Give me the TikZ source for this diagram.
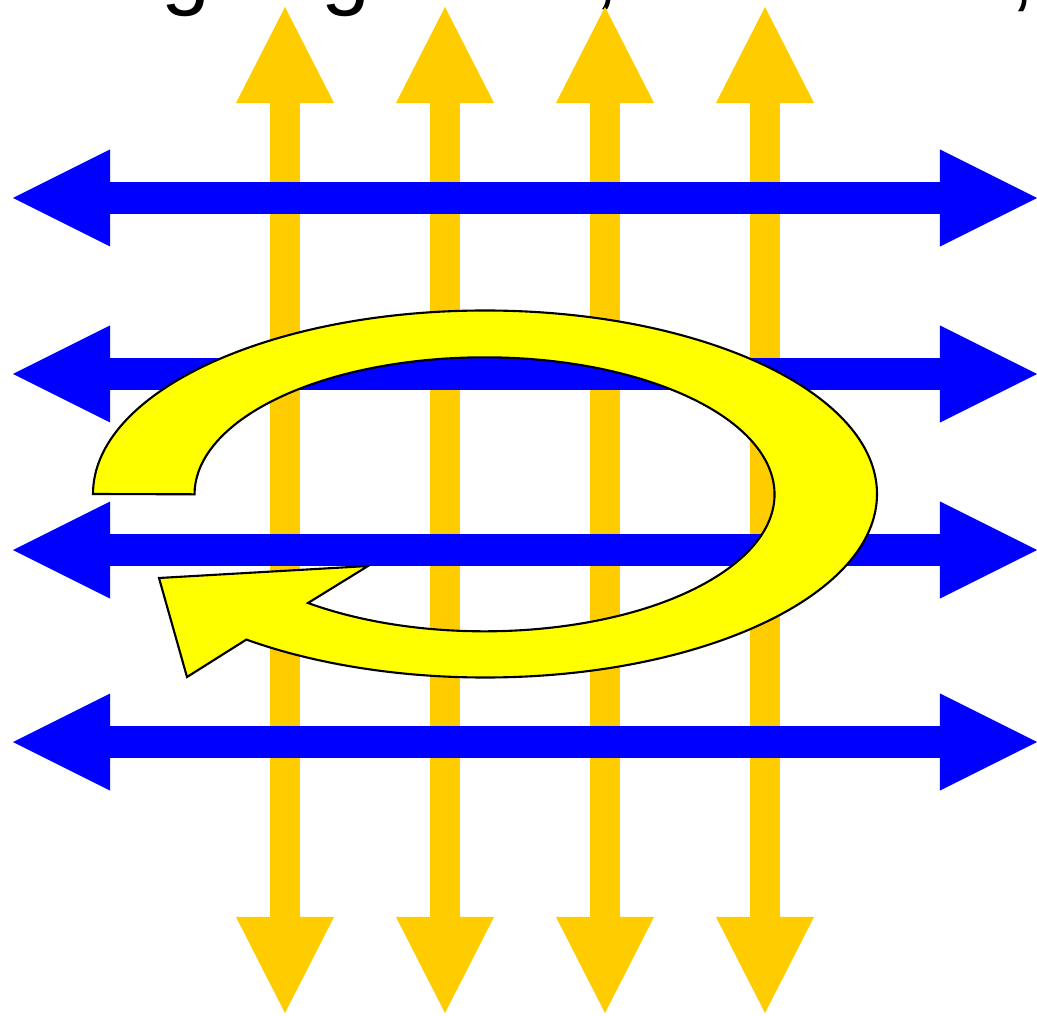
\documentclass[tikz,border=0pt]{standalone}
\usepackage{fontspec}
\setmainfont{Liberation Sans}
\usepackage{tikz}
\usetikzlibrary{arrows.meta}

\definecolor{gridgold}{HTML}{FFCC00}
\definecolor{gridblue}{HTML}{0000FF}
\definecolor{curlyellow}{HTML}{FFFF00}

\begin{document}
\begin{tikzpicture}[x=0.01cm,y=-0.01cm,
    goldbar/.style={draw=gridgold,line width=0.30cm,
      {Triangle[length=0.96cm,width=0.98cm,line width=0pt]}-{Triangle[length=0.96cm,width=0.98cm,line width=0pt]}},
    bluebar/.style={draw=gridblue,line width=0.32cm,
      {Triangle[length=0.97cm,width=0.97cm,line width=0pt]}-{Triangle[length=0.97cm,width=0.97cm,line width=0pt]}},
    curl/.style={fill=curlyellow,draw=black,line width=0.6pt,line join=miter},
    toptext/.style={font=\fontsize{25}{30}\selectfont,inner sep=0pt,anchor=base}]
  \useasboundingbox (0,0) rectangle (1037,1016);
  % ellipse of the curl: centre (485,494)
  \def\rox{392}
  \def\roy{183.5}
  \def\rix{290}
  \def\riy{137}
  \def\tcut{487.5}  % where the band meets the head

  % cut-off line of text above
  \begin{scope}
    \clip (0,0) rectangle (1037,1016);
    \node[toptext] (ga) at (186,-1) {g};
    \node[toptext] (gb) at (346,-1) {g};
    \node[toptext] (ca) at (607,-1) {,};
    \node[toptext] (cb) at (1023,1) {,};
  \end{scope}

  % vertical arrows
  \foreach \x in {285,445,605,765}
    \draw[goldbar] (\x,7) -- (\x,1013);

  % horizontal arrows
  \foreach \y in {198,374,550,742}
    \draw[bluebar] (13,\y) -- (1037,\y);

  % curved arrow
  \filldraw[curl] (93,494)
    arc[start angle=180, end angle=\tcut, x radius=\rox, y radius=\roy]
    -- (187,677) -- (159,578) -- (368,566) -- (308,603)
    arc[start angle=\tcut, end angle=180, x radius=\rix, y radius=\riy]
    -- cycle;
\end{tikzpicture}
\end{document}
